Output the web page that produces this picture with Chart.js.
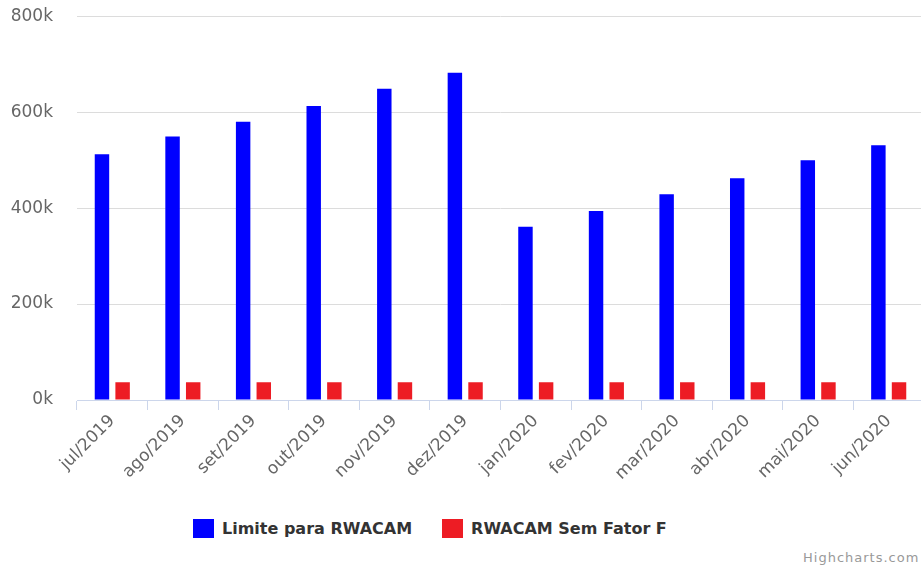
<!DOCTYPE html>
<html>
<head>
<meta charset="utf-8">
<script src="https://cdn.jsdelivr.net/npm/chart.js@4.4.1/dist/chart.umd.min.js"></script>
<style>
    html, body { margin: 0; padding: 0; background: #fff; overflow: hidden; }
    body { width: 921px; height: 570px; position: relative; font-family: "DejaVu Sans", Verdana, sans-serif; }
    #wrap { position: absolute; left: 0; top: -18px; width: 930px; height: 518px; }
    #legend { position: absolute; left: 193px; top: 519px; display: flex; align-items: center; }
    .item { display: flex; align-items: center; margin-right: 30px; font-weight: bold; font-size: 16px; color: #333; }
    .box { width: 21px; height: 19px; margin-right: 8px; }
    #credit { position: absolute; left: 803px; top: 550px; font-size: 13px; color: #999; letter-spacing: 1px; white-space: nowrap; }
</style>
</head>
<body>
<div id="wrap"><canvas id="chart" width="930" height="518"></canvas></div>
<div id="legend"></div>
<div id="credit">Highcharts.com</div>
<script>
// Data
const months = ['jul/2019', 'ago/2019', 'set/2019', 'out/2019', 'nov/2019', 'dez/2019',
                'jan/2020', 'fev/2020', 'mar/2020', 'abr/2020', 'mai/2020', 'jun/2020'];
const limiteRwacam = [512000, 549000, 580000, 613000, 649000, 682000,
                      361000, 394000, 429000, 462000, 500000, 531000];
const rwacamSemFator = [37000, 37000, 37000, 37000, 37000, 37000,
                        37000, 37000, 37000, 37000, 37000, 37000];
const yTicks = [0, 200000, 400000, 600000, 800000];

const blue = '#0000ff';
const red = '#ed1c24';
const labelColor = '#666666';
const gridColor = '#dcdcdc';
const axisColor = '#ccd6eb';

const chart = new Chart(document.getElementById('chart'), {
    type: 'bar',
    data: {
        labels: months,
        datasets: [
            { label: 'Limite para RWACAM', data: limiteRwacam, backgroundColor: blue },
            { label: 'RWACAM Sem Fator F', data: rwacamSemFator, backgroundColor: red }
        ]
    },
    options: {
        responsive: false,
        animation: false,
        categoryPercentage: 0.585,
        barPercentage: 0.7,
        layout: { padding: { left: 0, right: 6, top: 0, bottom: 0 } },
        plugins: {
            legend: { display: false },
            tooltip: { enabled: false }
        },
        scales: {
            x: {
                grid: {
                    offset: true,
                    drawOnChartArea: false,
                    drawTicks: true,
                    tickLength: 10,
                    color: axisColor
                },
                border: { color: axisColor, width: 1 },
                ticks: {
                    color: labelColor,
                    font: { family: 'DejaVu Sans', size: 17 },
                    minRotation: 45,
                    maxRotation: 45,
                    autoSkip: false,
                    padding: 1
                },
                afterFit: (scale) => { scale.height = 100; }
            },
            y: {
                min: 0,
                max: 800000,
                afterBuildTicks: (scale) => { scale.ticks = yTicks.map(v => ({ value: v })); },
                grid: { color: gridColor, drawTicks: false },
                border: { display: false },
                ticks: {
                    color: labelColor,
                    font: { family: 'DejaVu Sans', size: 17 },
                    padding: 24,
                    callback: (v) => (v / 1000) + 'k'
                },
                afterFit: (scale) => { scale.width = 77; }
            }
        }
    }
});

// legend built from the datasets
const legend = document.getElementById('legend');
chart.data.datasets.forEach(ds => {
    const item = document.createElement('div');
    item.className = 'item';
    const box = document.createElement('span');
    box.className = 'box';
    box.style.background = ds.backgroundColor;
    item.appendChild(box);
    item.appendChild(document.createTextNode(ds.label));
    legend.appendChild(item);
});
</script>
</body>
</html>
